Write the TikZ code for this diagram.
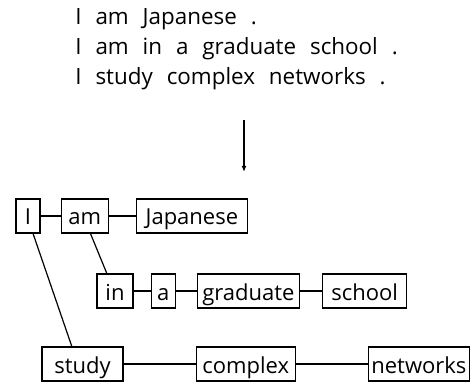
\documentclass[tikz,border=0pt]{standalone}
\usepackage{fontspec}
\setmainfont{Open Sans}
\usepackage{tikz}
\usetikzlibrary{arrows.meta,positioning,calc}
\newcommand{\wsep}{\hspace{0.62em}}

\begin{document}
\begin{tikzpicture}[x=0.5pt,y=-0.5pt,
    bx/.style={draw,line width=0.6pt,minimum height=17pt,inner sep=0pt,text height=11pt,text depth=2pt,font=\fontsize{11}{13}\selectfont},
    ln/.style={anchor=base west,inner sep=0pt,font=\fontsize{11.2}{13}\selectfont},
    ar/.style={-{Latex[length=3pt,width=2.4pt]},line width=0.6pt},
    ed/.style={line width=0.6pt}
]
\useasboundingbox (0,0) rectangle (474,383);
% the sentences
\node[ln] (s1) at (75,24.5) {I\wsep am\wsep Japanese\wsep .};
\node[ln] (s2) at (75,54.5) {I\wsep am\wsep in\wsep a\wsep graduate\wsep school\wsep .};
\node[ln] (s3) at (75,84.5) {I\wsep study\wsep complex\wsep networks\wsep .};
\coordinate (atop) at (244,120);
\coordinate (abot) at (244,172);
\draw[ar] (atop) -- (abot);
% the word graph
\node[bx,minimum width=12pt] (I) at (28,216) {I};
\node[bx,minimum width=23.5pt,right=10pt of I] (am) {am};
\node[bx,minimum width=55.5pt,right=13.5pt of am] (jp) {Japanese};
\node[bx,minimum width=18pt] (in) at (115,291) {in};
\node[bx,minimum width=12pt,right=8.5pt of in] (a) {a};
\node[bx,minimum width=51pt,right=10.5pt of a] (grad) {graduate};
\node[bx,minimum width=42pt,right=11pt of grad] (school) {school};
\node[bx,minimum width=40.5pt] (study) at (82.5,364) {study};
\node[bx,minimum width=49.5pt,right=36pt of study] (cx) {complex};
\node[bx,minimum width=50.5pt,right=36pt of cx] (nw) {networks};
\draw[ed] (I) -- (am);
\draw[ed] (am) -- (jp);
\draw[ed] (in) -- (a);
\draw[ed] (a) -- (grad);
\draw[ed] (grad) -- (school);
\draw[ed] (study) -- (cx);
\draw[ed] (cx) -- (nw);
\draw[ed] ($(I.south west)!0.7!(I.south east)$) -- ($(study.north west)!0.37!(study.north east)$);
\draw[ed] ($(am.south west)!0.62!(am.south east)$) -- ($(in.north west)!0.28!(in.north east)$);
\end{tikzpicture}
\end{document}
